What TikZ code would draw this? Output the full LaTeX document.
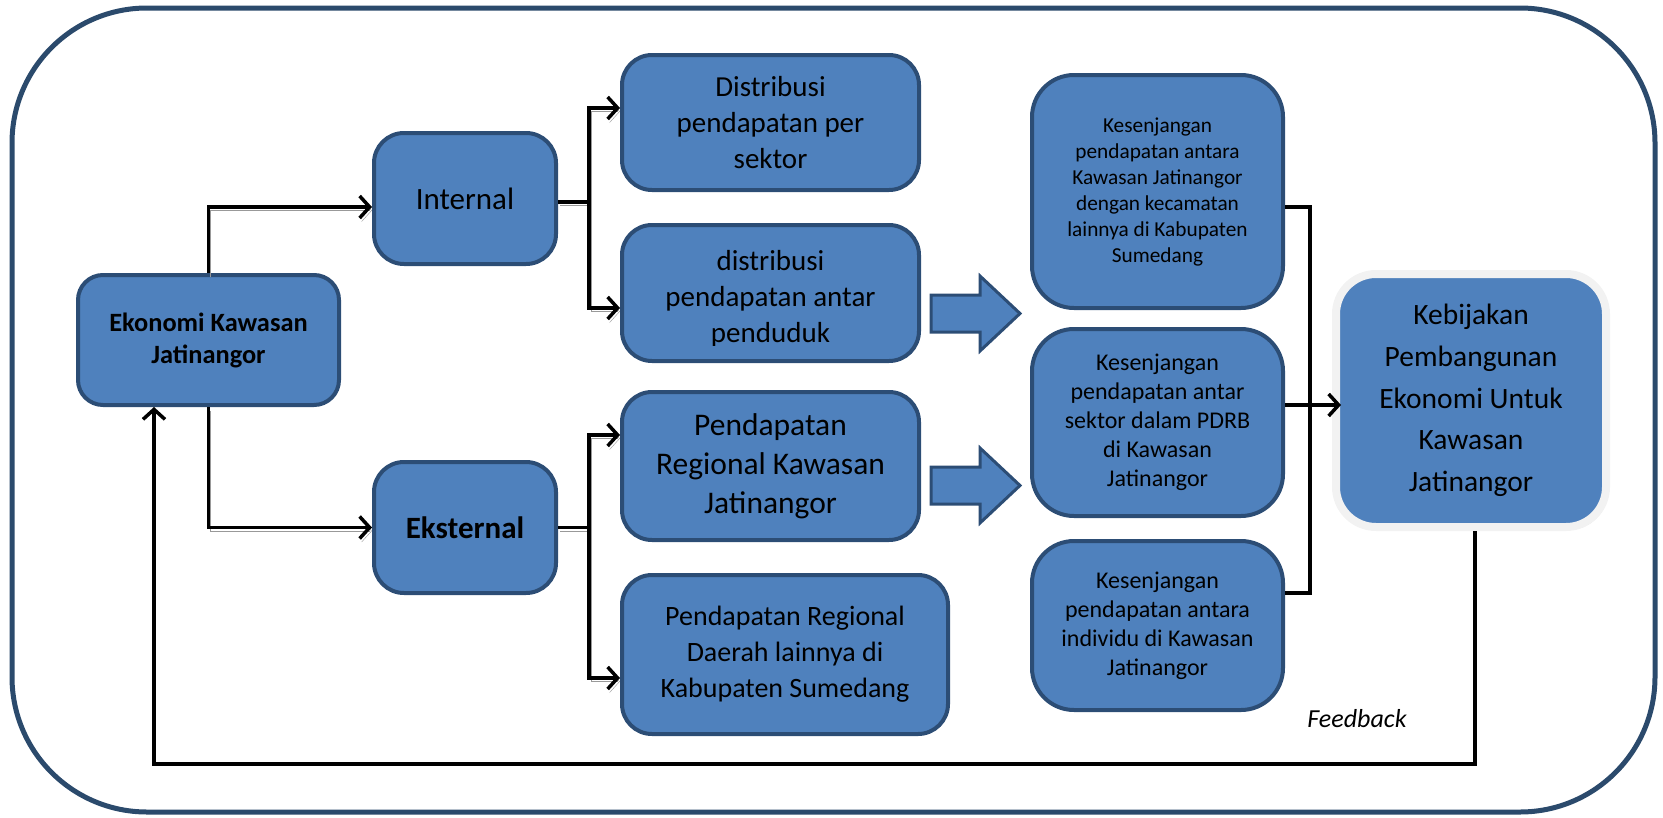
\documentclass[tikz,border=0pt]{standalone}
\usepackage{fontspec}
\setmainfont{Carlito}
\usetikzlibrary{arrows.meta,shadows}
\definecolor{boxblue}{HTML}{4F81BD}
\definecolor{boxline}{HTML}{2C4D75}
\definecolor{frameline}{HTML}{2B4A6C}
\tikzset{
  box/.style={draw=boxline, fill=boxblue, line width=4pt, align=center, inner sep=0pt},
  tree/.style={line width=3.5pt, preaction={draw=black!40, transform canvas={shift={(2pt,-3.5pt)}}}},
  link/.style={line width=3.5pt},
  bigarrow/.style={draw=boxline, fill=boxblue, line width=3pt, line join=miter},
}
\begin{document}
\begin{tikzpicture}[x=1pt, y=-1pt, >={Straight Barb[length=10pt,width=22pt]}]
    \useasboundingbox (0,0) rectangle (1663,817);
    % Frame
    \draw[frameline, line width=5pt, rounded corners=135pt] (12,8) rectangle (1655,812);

    % Nodes
    \node (eko) [box, minimum width=261pt, minimum height=130pt, rounded corners=25pt, font=\bfseries\fontsize{26.4}{32}\selectfont] at (208.5,340) {Ekonomi Kawasan\\Jatinangor};
    \node (int) [box, minimum width=182pt, minimum height=131pt, rounded corners=30pt, font=\fontsize{31}{38}\selectfont] at (465,198.5) {Internal};
    \node (eks) [box, minimum width=182pt, minimum height=131pt, rounded corners=30pt, font=\bfseries\fontsize{31}{38}\selectfont, below of=int, node distance=329pt] {Eksternal};
    \node (dis1) [box, minimum width=297pt, minimum height=135pt, rounded corners=30pt, font=\fontsize{29}{36}\selectfont] at (770.5,122.5) {Distribusi\\pendapatan per\\sektor};
    \node (dis2) [box, minimum width=297pt, minimum height=136pt, rounded corners=30pt, below of=dis1, node distance=170.5pt] {};
    \begin{scope}
        % text of dis2 is cut off at the bottom
        \clip (dis2.north west) rectangle ([yshift=18pt]dis2.south east);
        \node (dis2t) [align=center, font=\fontsize{29}{36}\selectfont] at ([yshift=-5.75pt]dis2.center) {distribusi\\pendapatan antar\\penduduk};
    \end{scope}
    \node (pr1) [box, minimum width=297pt, minimum height=148pt, rounded corners=30pt, font=\fontsize{31.5}{39}\selectfont, below of=dis2, node distance=173pt] {Pendapatan\\Regional Kawasan\\Jatinangor};
    \node (pr2) [box, minimum width=326pt, minimum height=159pt, rounded corners=30pt, font=\fontsize{28}{36}\selectfont] at (785,654.5) {Pendapatan Regional\\Daerah lainnya di\\Kabupaten Sumedang};
    \node (kes1) [box, minimum width=251pt, minimum height=233pt, rounded corners=42pt, font=\fontsize{21.3}{26}\selectfont] at (1157.5,191.5) {Kesenjangan\\pendapatan antara\\Kawasan Jatinangor\\dengan kecamatan\\lainnya di Kabupaten\\Sumedang};
    \node (kes2) [box, minimum width=251pt, minimum height=187pt, rounded corners=42pt, font=\fontsize{24}{29}\selectfont, below of=kes1, node distance=231pt] {Kesenjangan\\pendapatan antar\\sektor dalam PDRB\\di Kawasan\\Jatinangor};
    \node (kes3) [box, minimum width=251pt, minimum height=169pt, rounded corners=42pt, font=\fontsize{24}{29}\selectfont, below of=kes2, node distance=203pt] {Kesenjangan\\pendapatan antara\\individu di Kawasan\\Jatinangor};
    \node (keb) [box, draw=black!5, line width=8pt, minimum width=270pt, minimum height=253pt, rounded corners=40pt, drop shadow={shadow xshift=2pt, shadow yshift=-3pt, fill=black!45, opacity=0.6}, font=\fontsize{29.5}{41.7}\selectfont] at (1471,400.5) {Kebijakan\\Pembangunan\\Ekonomi Untuk\\Kawasan\\Jatinangor};

    % Block arrows
    \draw[bigarrow] (931,295) -- (980,295) -- (980,276) -- (1020,313.5) -- (980,351) -- (980,332) -- (931,332) -- cycle;
    \draw[bigarrow] (931,467) -- (980,467) -- (980,448) -- (1020,485.5) -- (980,523) -- (980,504) -- (931,504) -- cycle;

    % Ekonomi to Internal and Eksternal
    \draw[->, tree] (eko.north) |- ([yshift=-8.5pt]int.west);
    \draw[->, tree] (eko.south) |- (eks.west);

    % Internal branches
    \coordinate (ibr) at ([xshift=31pt,yshift=-3.5pt]int.east);
    \draw[tree] ([yshift=-3.5pt]int.east) -- (ibr);
    \draw[->, tree] (ibr) |- ([yshift=14.5pt]dis1.west);
    \draw[->, tree] (ibr) |- ([yshift=-15pt]dis2.west);

    % Eksternal branches
    \coordinate (ebr) at ([xshift=31pt]eks.east);
    \draw[tree] (eks.east) -- (ebr);
    \draw[->, tree] (ebr) |- ([yshift=31pt]pr1.west);
    \draw[->, tree] (ebr) |- ([yshift=-23.5pt]pr2.west);

    % Kesenjangan to Kebijakan
    \coordinate (kbr) at ([xshift=25pt,yshift=-15.5pt]kes1.east);
    \draw[link] ([yshift=-15.5pt]kes1.east) -- (kbr) |- ([yshift=32.5pt]kes3.east);
    \draw[->, link] ([yshift=17.5pt]kes2.east) -- ([xshift=9pt,yshift=-4.5pt]keb.west);

    % Feedback
    \coordinate (fbk) at (800,764);
    \draw[->, link] ([xshift=4pt]keb.south) |- (fbk) -| ([xshift=-54.5pt]eko.south);
    \node (fbl) [font=\itshape\fontsize{26}{31}\selectfont] at (1357,719) {Feedback};
\end{tikzpicture}
\end{document}
